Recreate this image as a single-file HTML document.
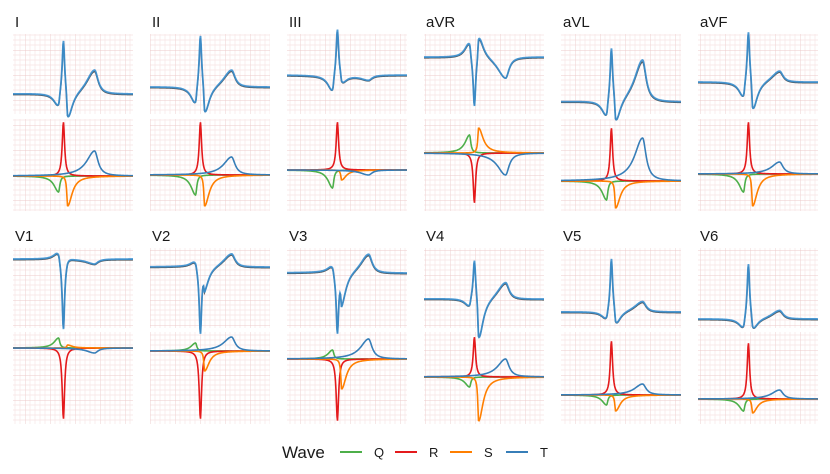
<!DOCTYPE html>
<html><head><meta charset="utf-8"><style>
body{margin:0;background:#fff;}
svg{display:block;font-family:"Liberation Sans",sans-serif;}
</style></head><body>
<svg id="c" width="830" height="474">
<defs>
<pattern id="grid" width="25" height="25" patternUnits="userSpaceOnUse">
<path d="M5 0V25M10 0V25M15 0V25M20 0V25M0 5H25M0 10H25M0 15H25M0 20H25" stroke="#f8e4e4" stroke-width="0.7" fill="none"/>
<path d="M0 0V25M0 0H25" stroke="#eccaca" stroke-width="0.9" fill="none"/>
</pattern>
</defs>
</svg>
<script>
const leads=["I","II","III","aVR","aVL","aVF","V1","V2","V3","V4","V5","V6"];
const qAmp=[-16,-20,-18,18,-19,-18,10,8,9,-10,-10,-12];
const rAmp=[54,53,48,-50,53,52,-71,-68,-62,40,54,56];
const sAmp=[-30,-31,-10,25,-27,-32,3,-20,-30,-44,-16,-14];
const tAmp=[25,18,-5,-22,43,12,-5,14,20,18,11,9];
const topBase=[20,27,39,57,12,32,69,61,55,29,16,9];
const botBase=[35,36,41,58,30,37,76,73,65,47,29,25];
const svg=document.getElementById('c');
const NS='http://www.w3.org/2000/svg';
const W=120,TH=80,BH=92;
const colX=[13,150,287,424,561,698];
const rowTop=[34,248],rowBot=[119,332];
const waves=[{c:0.38,wl:0.045,wr:0.012,col:'#4daf4a',a:qAmp},{c:0.42,wl:0.012,wr:0.012,col:'#e41a1c',a:rAmp},{c:0.455,wl:0.008,wr:0.045,col:'#ff7f00',a:sAmp},{c:0.68,wl:0.08,wr:0.035,col:'#377eb8',a:tAmp}];
function lor(x,w){const d=(x-w.c)/(x<w.c?w.wl:w.wr);return 1/(1+d*d);}
function xS(x0,t){return x0+t*W;}
function el(tag,attrs){const e=document.createElementNS(NS,tag);for(const k in attrs)e.setAttribute(k,attrs[k]);svg.appendChild(e);return e;}
function pathFrom(x0,fn,yMap){let d='';for(let i=0;i<=240;i++){const t=i/240;const v=fn(t);d+=(i?'L':'M')+xS(x0,t).toFixed(2)+' '+yMap(v).toFixed(2);}return d;}
leads.forEach((name,i)=>{
  const r=Math.floor(i/6),c=i%6,x0=colX[c];
  const tt=rowTop[r],bt=rowBot[r];
  const lab=el('text',{x:x0+2,y:tt-7,'font-size':15,fill:'#1a1a1a'});lab.textContent=name;
  
  
  const g1=el('rect',{x:x0,y:tt,width:W,height:TH,fill:'url(#grid)'});
  
  
  const g2=el('rect',{x:x0,y:bt,width:W,height:BH,fill:'url(#grid)'});
  
  
  const sum=t=>waves.reduce((s,w)=>s+w.a[i]*lor(t,w),0);
  const yT=v=>tt+TH-(topBase[i]+v);
  const raw=el('path',{d:pathFrom(x0,t=>sum(t)*0.97,v=>yT(v)+0.8),stroke:'#555',fill:'none','stroke-width':1.4});
  
  
  const fit=el('path',{d:pathFrom(x0,sum,yT),stroke:'#3a8fcf',fill:'none','stroke-width':1.8,'stroke-opacity':0.9});
  
  
  const yB=v=>bt+BH-(botBase[i]+v);
  ['Q','R','S','T'].forEach((wn,k)=>{
    const w=waves[k];
    const p=el('path',{d:pathFrom(x0,t=>w.a[i]*lor(t,w),yB),stroke:w.col,fill:'none','stroke-width':1.6});
    
    
  });
});
const lt=el('text',{x:282,y:458,'font-size':17,fill:'#1a1a1a'});lt.textContent='Wave';


const lx=[340,395,450,506],names=['Q','R','S','T'];
names.forEach((n,k)=>{
  const l=el('line',{x1:lx[k],x2:lx[k]+22,y1:452,y2:452,stroke:waves[k].col,'stroke-width':2});
  
  
  const t=el('text',{x:lx[k]+34,y:457,'font-size':13,fill:'#1a1a1a'});t.textContent=n;
  
  
});
</script>
</body></html>
